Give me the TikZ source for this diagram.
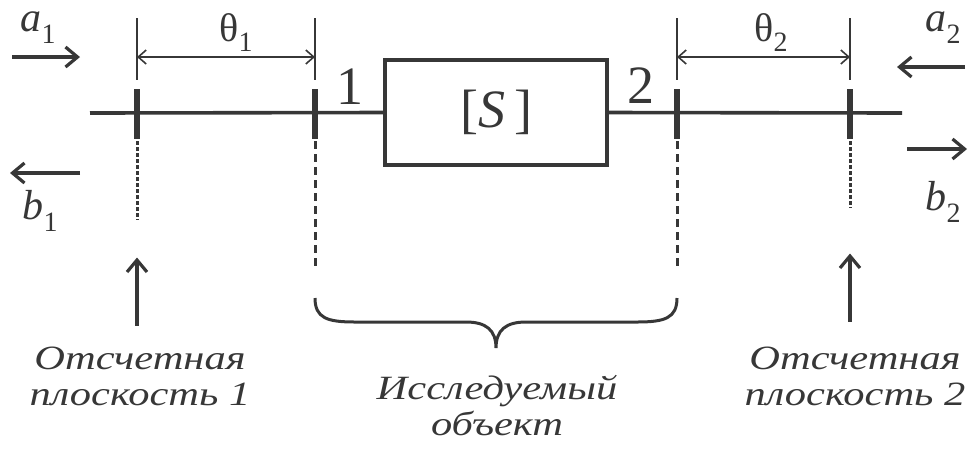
\documentclass[tikz,border=0pt]{standalone}
\usepackage{fontspec}
\setmainfont{Liberation Serif}
\newfontfamily\capfont[FakeStretch=1.25]{Liberation Serif}
\usetikzlibrary{arrows.meta}
\usetikzlibrary{calc}
\definecolor{ink}{RGB}{55,55,55}
\newcommand{\wv}[2]{\textit{#1}\raisebox{-6pt}{\fontsize{14}{14}\selectfont #2}}
\tikzset{
  mainline/.style={ink, line width=1.8pt},
  planetick/.style={ink, line width=3pt},
  refline/.style={ink, line width=1.5pt, dash pattern=on 2pt off 1pt},
  portline/.style={ink, line width=1.5pt, dash pattern=on 4pt off 2.5pt},
  dimline/.style={ink, line width=0.8pt},
  dimarrow/.style={ink, line width=0.8pt, {Straight Barb[length=4pt,width=7pt]}-{Straight Barb[length=4pt,width=7pt]}},
  wave/.style={ink, line width=1.6pt, -{Straight Barb[length=6pt,width=10pt]}},
  caption/.style={text=ink, align=center, font=\capfont\itshape\fontsize{17}{18}\selectfont},
  wavelbl/.style={text=ink, inner sep=1pt, font=\fontsize{21}{21}\selectfont},
  portlbl/.style={text=ink, font=\fontsize{27}{27}\selectfont},
}
\begin{document}
\begin{tikzpicture}[x=0.5pt,y=-0.5pt]
    \useasboundingbox (0,0) rectangle (968,457);
    % planes on the line
    \coordinate (r1) at (137,113);
    \coordinate (p1) at (315,113);
    \coordinate (p2) at (677,113);
    \coordinate (r2) at (850,113);
    \coordinate (lend) at (90,113);
    \coordinate (rend) at (902,113);
    % object
    \node[draw=ink, line width=1.8pt, minimum width=111pt, minimum height=52.5pt, inner sep=0pt,
          portlbl] (S) at (496,112.5) {[\textit{S}\,]};
    \draw[mainline] (lend) -- (S.west);
    \draw[mainline] (S.east) -- (rend);
    \node[portlbl] (n1) at (350,87) {1};
    \node[portlbl] (n2) at (641,86) {2};
    % ticks and traces
    \foreach \p in {r1,p1,p2,r2}
        \draw[planetick] ($(\p)+(0,-24)$) -- ($(\p)+(0,26)$);
    \draw[refline] ($(r1)+(0,28)$) -- ($(r1)+(0,107)$);
    \draw[refline] ($(r2)+(0,28)$) -- ($(r2)+(0,95)$);
    \draw[portline] ($(p1)+(0,28)$) -- ($(p1)+(0,153)$);
    \draw[portline] ($(p2)+(0,28)$) -- ($(p2)+(0,153)$);
    % dimensions
    \foreach \p in {r1,p1,p2,r2}
        \draw[dimline] ($(\p)+(0,-95)$) -- ($(\p)+(0,-33)$);
    \draw[dimarrow] ($(r1)+(0,-56)$) -- ($(p1)+(0,-56)$);
    \draw[dimarrow] ($(p2)+(0,-56)$) -- ($(r2)+(0,-56)$);
    \node[text=ink, font=\fontsize{20}{20}\selectfont] (t1) at (236,33) {θ\raisebox{-5pt}{\fontsize{14}{14}\selectfont 1}};
    \node[text=ink, font=\fontsize{20}{20}\selectfont] (t2) at (771,33) {θ\raisebox{-5pt}{\fontsize{14}{14}\selectfont 2}};
    % waves
    \node[wavelbl] (a1) at (38,28) {\wv{a}{1}};
    \node[wavelbl] (b1) at (40,211) {\wv{b}{1}};
    \node[wavelbl] (a2) at (943,28) {\wv{a}{2}};
    \node[wavelbl] (b2) at (943,202) {\wv{b}{2}};
    \coordinate (a1s) at (12,57);   \coordinate (a1e) at (80,57);
    \coordinate (b1s) at (80,173);  \coordinate (b1e) at (10,173);
    \coordinate (a2s) at (965,67);  \coordinate (a2e) at (897,67);
    \coordinate (b2s) at (907,149); \coordinate (b2e) at (967,149);
    \draw[wave] (a1s) -- (a1e);
    \draw[wave] (b1s) -- (b1e);
    \draw[wave] (a2s) -- (a2e);
    \draw[wave] (b2s) -- (b2e);
    % captions
    \node[caption] (c1) at (140,376) {Отсчетная\\плоскость 1};
    \node[caption] (c2) at (855,376) {Отсчетная\\плоскость 2};
    \node[caption] (c3) at (497,406) {Исследуемый\\объект};
    \draw[wave] (c1.north -| r1) ++(0,-14) -- ++(0,-68);
    \draw[wave] (c2.north -| r2) ++(0,-18) -- ++(0,-68);
    % brace
    \draw[ink, line width=1.5pt] ($(p1)+(0,185)$) .. controls ($(p1)+(0,205)$) and ($(p1)+(12,209)$) .. ($(p1)+(40,209)$)
        -- (466,322) .. controls (486,322) and (496,330) .. (496,348)
        .. controls (496,330) and (506,322) .. (526,322)
        -- ($(p2)+(-40,209)$) .. controls ($(p2)+(-12,209)$) and ($(p2)+(0,205)$) .. ($(p2)+(0,185)$);
\end{tikzpicture}
\end{document}
